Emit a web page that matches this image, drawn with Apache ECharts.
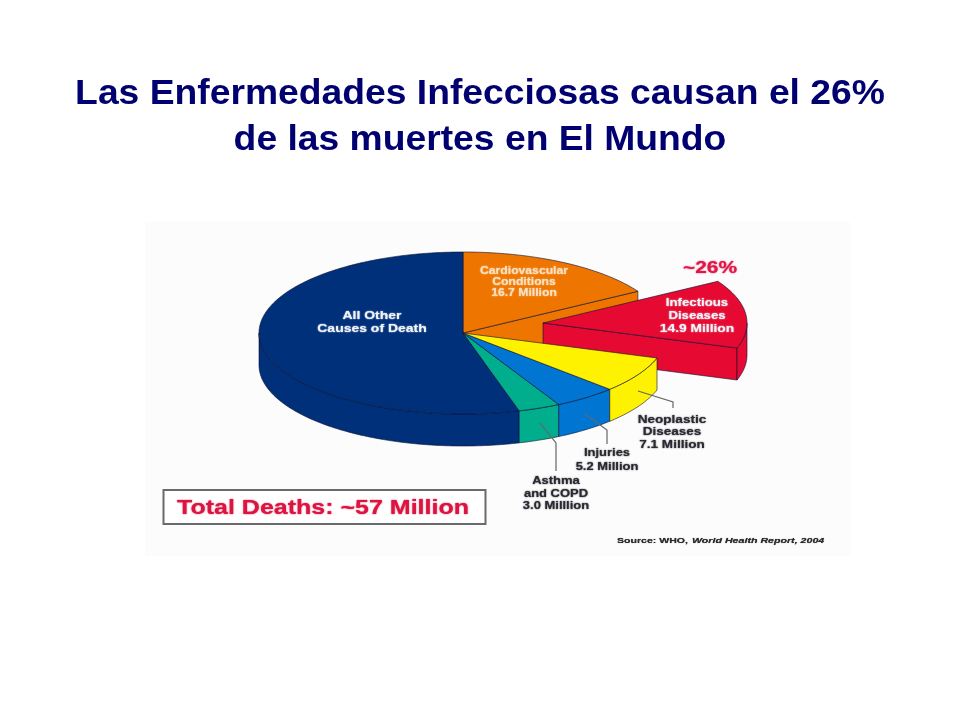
<!DOCTYPE html>
<html><head><meta charset="utf-8">
<style>html,body{margin:0;padding:0;background:#fff}#c{width:960px;height:720px}</style>
<script src="https://cdn.jsdelivr.net/npm/echarts@6/dist/echarts.min.js"></script>
</head><body><div id="c"></div>
<script>
// ---- data ----
const titleLines = ['Las Enfermedades Infecciosas causan el 26%', 'de las muertes en El Mundo'];
const categories = ['Cardiovascular Conditions', 'Infectious Diseases', 'Neoplastic Diseases', 'Injuries', 'Asthma and COPD', 'All Other Causes of Death'];
// share of the drawn pie per slice, in degrees, clockwise from the top (as drawn, not proportional to deaths)
const drawnSweep = [59, 49, 26, 18, 12, 196];
const deathsMillion = ['16.7', '14.9', '7.1', '5.2', '3.0', null];
const sliceColors = ['#ee7600', '#e60a32', '#fff200', '#0076d2', '#00ad8c', '#00307a'];
const drawOrder = [0, 5, 1, 4, 3, 2];
const totalText = 'Total Deaths: ~57 Million';
const shareText = '~26%';

// ---- layout ----
const C = {x: 463, y: 333, rx: 204, ry: 81, depth: 32};
const explode = {1: [80, -10]};
const cutWalls = {0: true, 1: true};

const starts = [];
drawnSweep.reduce((a, s, i) => (starts[i] = a, a - s), 90);

function pt(cx, cy, deg, dz) {
  const r = deg * Math.PI / 180;
  return [cx + C.rx * Math.cos(r), cy - C.ry * Math.sin(r) + (dz || 0)];
}
function arc(cx, cy, a0, a1, dz) {
  const out = [], n = Math.max(1, Math.ceil(Math.abs(a1 - a0)));
  for (let i = 0; i <= n; i++) out.push(pt(cx, cy, a0 + (a1 - a0) * i / n, dz));
  return out;
}
const edge = {stroke: 'rgba(10,15,50,0.6)', lineWidth: 1};
function renderItem(params, api) {
  const i = api.value(0), sweep = api.value(1);
  const a0 = starts[i], a1 = a0 - sweep;
  const off = explode[i] || [0, 0];
  const cx = C.x + off[0], cy = C.y + off[1];
  const style = Object.assign({fill: sliceColors[i]}, edge);
  const kids = [];
  if (cutWalls[i]) {
    kids.push({type: 'polygon', shape: {points: [[cx, cy], pt(cx, cy, a1), pt(cx, cy, a1, C.depth), [cx, cy + C.depth]]}, style});
  }
  // outer wall: only the front half of the rim
  const ranges = [];
  for (const [lo, hi] of [[-180, 0], [-540, -360]]) {
    const s = Math.min(a0, hi), e = Math.max(a1, lo);
    if (s > e) ranges.push([s, e]);
  }
  ranges.forEach(r => {
    const top = arc(cx, cy, r[0], r[1]);
    const bot = arc(cx, cy, r[1], r[0], C.depth);
    kids.push({type: 'polygon', shape: {points: top.concat(bot)}, style});
  });
  kids.push({type: 'polygon', shape: {points: [[cx, cy]].concat(arc(cx, cy, a0, a1))}, style});
  return {type: 'group', children: kids};
}

const FF = '"Liberation Sans", Arial, sans-serif';
const lbl = (text, x, y, size, fill, sx, extra) => ({
  type: 'text', z: 10, x, y, scaleX: sx,
  style: Object.assign({text, x: 0, y: 0, fill, align: 'center', verticalAlign: 'middle',
    font: `bold ${size}px ${FF}`, textShadowBlur: 1.5, textShadowColor: fill}, extra || {})
});
const leader = pts => ({type: 'polyline', z: 9, shape: {points: pts}, style: {stroke: '#666', lineWidth: 1.2, fill: null}});

const W = '#f0f3f8', D = '#2a2a32', O = '#fbe0c0';
const graphics = [
  {type: 'rect', z: -5, shape: {x: 145, y: 222, width: 705, height: 334}, style: {fill: '#fcfcfc'}},
  {type: 'text', z: 10, x: 480, y: 94, scaleX: 1.08, style: {text: titleLines[0], x: 0, y: 0, align: 'center', verticalAlign: 'middle', fill: '#000070', font: `bold 34.5px ${FF}`}},
  {type: 'text', z: 10, x: 480, y: 140, scaleX: 1.08, style: {text: titleLines[1], x: 0, y: 0, align: 'center', verticalAlign: 'middle', fill: '#000070', font: `bold 34.5px ${FF}`}},
  leader([[638, 391], [673, 402], [673, 408]]),
  leader([[585, 414], [607, 430], [607, 444]]),
  leader([[540, 423], [556, 443], [556, 471]]),
  lbl('All Other', 372, 316, 11, W, 1.27),
  lbl('Causes of Death', 372, 329, 11, W, 1.27),
  lbl('Cardiovascular', 524, 271, 10.5, O, 1.16),
  lbl('Conditions', 524, 282, 10.5, O, 1.16),
  lbl(deathsMillion[0] + ' Million', 524, 293, 10.5, O, 1.16),
  lbl(shareText, 710, 268, 17, '#e0184a', 1.23),
  lbl('Infectious', 697, 303, 11, W, 1.2),
  lbl('Diseases', 697, 316, 11, W, 1.2),
  lbl(deathsMillion[1] + ' Million', 697, 329, 11.5, W, 1.2),
  lbl('Neoplastic', 672, 420, 11, D, 1.23),
  lbl('Diseases', 672, 432, 11, D, 1.23),
  lbl(deathsMillion[2] + ' Million', 672, 445, 11, D, 1.23),
  lbl(categories[3], 607, 453, 11, D, 1.18),
  lbl(deathsMillion[3] + ' Million', 607, 467, 11, D, 1.18),
  lbl('Asthma', 556, 481, 11, D, 1.18),
  lbl('and COPD', 556, 494, 11, D, 1.18),
  lbl(deathsMillion[4] + ' Milllion', 556, 506, 11, D, 1.18),
  {type: 'rect', z: 8, shape: {x: 163.5, y: 490, width: 322, height: 34}, style: {fill: '#fff', stroke: '#6a6a6a', lineWidth: 2}},
  lbl(totalText, 323, 508, 20, '#dc1440', 1.25),
  lbl('Source: WHO,', 617, 541, 8, '#2c2c2c', 1.32, {align: 'left', textShadowBlur: 0.8}),
  lbl('World Health Report, 2004', 692, 541, 8, '#2c2c2c', 1.33, {align: 'left', font: `italic bold 8px ${FF}`, textShadowBlur: 0.8})
];

const chart = echarts.init(document.getElementById('c'), null, {renderer: 'canvas'});
chart.setOption({
  animation: false,
  backgroundColor: '#ffffff',
  graphic: graphics,
  series: [{
    type: 'custom', coordinateSystem: 'none', renderItem, silent: true, z: 2,
    data: drawOrder.map(i => ({name: categories[i], value: [i, drawnSweep[i]]}))
  }]
});
</script></body></html>
